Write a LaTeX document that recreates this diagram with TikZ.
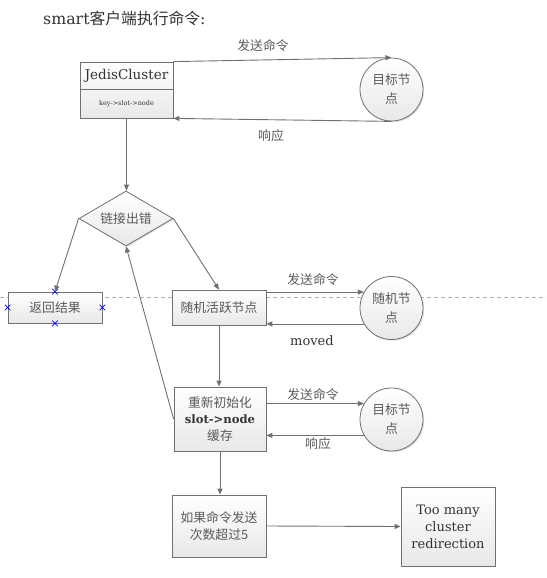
\documentclass[tikz,border=0pt]{standalone}
\usepackage{fontspec}
\setmainfont{DejaVu Serif}
\newfontfamily\cjk{Noto Sans CJK SC}
\usetikzlibrary{arrows.meta,shapes.geometric,shapes.misc,shadows}

\definecolor{edge}{HTML}{707070}
\definecolor{ink}{HTML}{5A5A5A}
\definecolor{dark}{HTML}{333333}

\begin{document}
\begin{tikzpicture}[x=1pt,y=-1pt,
  shade/.style={top color=white, bottom color=gray!18,
    drop shadow={shadow xshift=1.2pt, shadow yshift=-1.2pt, opacity=0.25}},
  box/.style={draw=edge, line width=0.8pt, shade, inner sep=2pt, align=center,
    text=ink, font=\cjk\fontsize{12.8}{16.5}\selectfont},
  node circ/.style={circle, draw=edge, line width=0.8pt, shade, minimum size=63pt,
    inner sep=0pt, align=center, text=ink, font=\cjk\fontsize{12.8}{19}\selectfont},
  decision/.style={diamond, draw=edge, line width=0.8pt, shade, inner sep=0pt,
    minimum width=94pt, minimum height=55pt, aspect=1.7,
    text=ink, font=\cjk\fontsize{12.8}{16}\selectfont},
  lbl/.style={text=ink, inner sep=0pt, font=\cjk\fontsize{12.8}{16}\selectfont},
  arr/.style={draw=edge, line width=0.9pt, -{Triangle[length=6pt,width=5pt]}},
  mark x/.style={cross out, draw=blue, line width=0.6pt, minimum size=5pt, inner sep=0pt}
]
\useasboundingbox (0,0) rectangle (546,578);

% dashed guide line running behind the shapes
\coordinate (gl) at (0,297);
\coordinate (gr) at (546,297);
\draw[gray!60, line width=0.7pt, dash pattern=on 4pt off 3pt] (gl) -- (gr);

% title
\node[anchor=west, inner sep=0pt, text=dark, font=\fontsize{15.8}{18}\selectfont] (title) at (43,18)
  {smart{\cjk 客户端执行命令}:};

% JedisCluster box with its divider
\node[box, minimum width=93pt, minimum height=56pt] (jc) at (126.5,90) {};
\draw[edge, line width=0.8pt] (80,89) -- (173,89);
\node[inner sep=0pt, text=dark, font=\fontsize{13.5}{16}\selectfont] (jct) at (126.5,76) {JedisCluster};
\node[inner sep=0pt, text=dark, font=\fontsize{6.5}{8}\selectfont] (jck) at (126.5,104) {key->slot->node};

% target nodes and random node
\node[node circ] (tn1) at (391.5,89.5) {目标节\\点};
\node[node circ] (rn) at (391.5,308) {随机节\\点};
\node[node circ] (tn2) at (391.5,419.5) {目标节\\点};

% decision and process boxes
\node[decision] (dec) at (126,218.5) {链接出错};
\node[box, minimum width=94pt, minimum height=31pt] (rr) at (55,307.5) {返回结果};
\node[box, minimum width=94pt, minimum height=35pt] (ra) at (219,307.5) {随机活跃节点};
\node[box, minimum width=92pt, minimum height=64pt] (re) at (220,419)
  {重新初始化\\{\fontspec{DejaVu Serif}\fontsize{11.6}{14}\selectfont\bfseries\color{dark}slot->node}\\缓存};
\node[box, minimum width=94pt, minimum height=62pt] (ct) at (219,526) {如果命令发送\\次数超过5};
\node[box, minimum width=94pt, minimum height=79pt, text=dark,
  font=\fontsize{13}{17}\selectfont] (tm) at (448,526.5) {Too many\\cluster\\redirection};

% selection markers around the result box
\node[mark x] (mxn) at (rr.north) {};
\node[mark x] (mxs) at (rr.south) {};
\node[mark x] (mxw) at (rr.west) {};
\node[mark x] (mxe) at (rr.east) {};

% connectors
\draw[arr] (jc.north east) -- (tn1.north);
\draw[arr] (tn1.south) -- (jc.south east);
\draw[arr] (jc.south) -- (jc.south |- dec.north);
\draw[arr] (dec.west) -- (rr.north);
\draw[arr] (dec.east) -- (ra.north);
\draw[arr] (ra.east |- rn.150) -- (rn.150);
\draw[arr] (rn.210) -- (ra.east |- rn.210);
\draw[arr] (ra.south) -- (ra.south |- re.north);
\draw[arr] (re.west) -- (dec.south);
\draw[arr] (re.east |- tn2.150) -- (tn2.150);
\draw[arr] (tn2.210) -- (re.east |- tn2.210);
\draw[arr] (re.south) -- (re.south |- ct.north);
\draw[arr] (ct.east) -- (tm.west);

% connector labels
\node[lbl] (l1) at (263,46) {发送命令};
\node[lbl] (l2) at (271,136) {响应};
\node[lbl] (l3) at (313,280) {发送命令};
\node[lbl, text=dark, font=\fontsize{13}{16}\selectfont] (l4) at (312,341) {moved};
\node[lbl] (l5) at (313,395) {发送命令};
\node[lbl] (l6) at (318,444) {响应};
\end{tikzpicture}
\end{document}
